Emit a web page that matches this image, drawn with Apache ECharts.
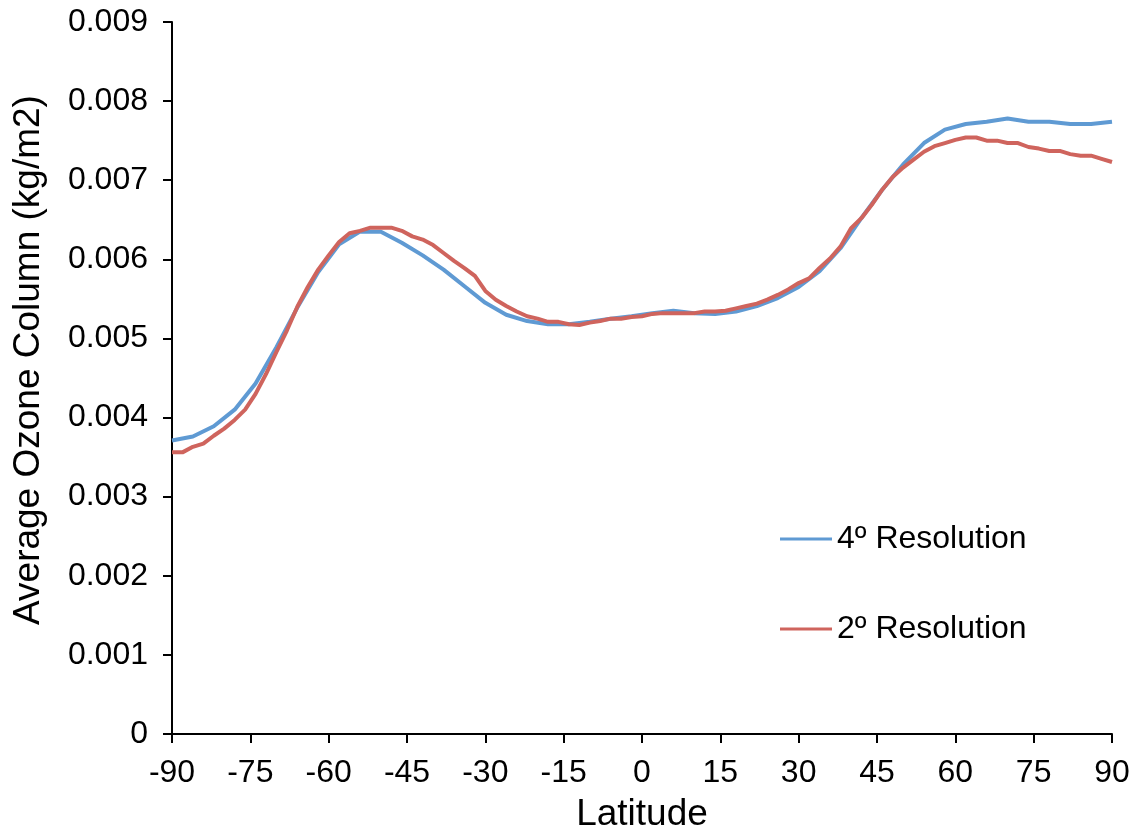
<!DOCTYPE html>
<html>
<head>
<meta charset="utf-8">
<script src="https://cdn.jsdelivr.net/npm/echarts@6/dist/echarts.min.js"></script>
<style>html,body{margin:0;padding:0;background:#fff}#c{width:1140px;height:838px}</style>
</head>
<body>
<div id="c"></div>
<script>
const xTicks = [-90,-75,-60,-45,-30,-15,0,15,30,45,60,75,90];
const yTicks = [0,0.001,0.002,0.003,0.004,0.005,0.006,0.007,0.008,0.009];

const lat4 = [-90,-86,-82,-78,-74,-70,-66,-62,-58,-54,-50,-46,-42,-38,-34,-30,-26,-22,-18,-14,-10,-6,-2,2,6,10,14,18,22,26,30,34,38,42,46,50,54,58,62,66,70,74,78,82,86,90];
const res4 = [3.71,3.76,3.89,4.10,4.43,4.89,5.39,5.84,6.19,6.35,6.35,6.21,6.05,5.87,5.66,5.45,5.30,5.22,5.18,5.18,5.21,5.25,5.28,5.32,5.35,5.32,5.31,5.34,5.41,5.51,5.65,5.85,6.14,6.52,6.88,7.20,7.47,7.64,7.71,7.74,7.78,7.74,7.74,7.71,7.71,7.74];

const lat2 = [-90,-88,-86,-84,-82,-80,-78,-76,-74,-72,-70,-68,-66,-64,-62,-60,-58,-56,-54,-52,-50,-48,-46,-44,-42,-40,-38,-36,-34,-32,-30,-28,-26,-24,-22,-20,-18,-16,-14,-12,-10,-8,-6,-4,-2,0,2,4,6,8,10,12,14,16,18,20,22,24,26,28,30,32,34,36,38,40,42,44,46,48,50,52,54,56,58,60,62,64,66,68,70,72,74,76,78,80,82,84,86,88,90];
const res2 = [3.56,3.56,3.63,3.67,3.77,3.86,3.97,4.10,4.30,4.55,4.83,5.10,5.40,5.65,5.87,6.05,6.22,6.33,6.36,6.40,6.40,6.40,6.36,6.29,6.25,6.18,6.08,5.98,5.89,5.79,5.60,5.49,5.41,5.34,5.28,5.25,5.21,5.21,5.18,5.17,5.20,5.22,5.25,5.25,5.27,5.28,5.31,5.32,5.32,5.32,5.32,5.34,5.34,5.35,5.38,5.41,5.44,5.49,5.55,5.62,5.70,5.76,5.89,6.01,6.16,6.39,6.52,6.69,6.88,7.04,7.16,7.26,7.36,7.43,7.47,7.51,7.54,7.54,7.50,7.50,7.47,7.47,7.42,7.40,7.37,7.37,7.33,7.31,7.31,7.27,7.23];

const scale = 0.001;
const pairs = (xs, ys) => xs.map((x, i) => [x, ys[i] * scale]);

const font = 'Liberation Sans, Arial, Helvetica, sans-serif';
const chart = echarts.init(document.getElementById('c'), null, {renderer: 'canvas'});
chart.setOption({
  animation: false,
  backgroundColor: '#fff',
  grid: {left: 172, right: 28, top: 22, bottom: 104, containLabel: false, outerBoundsMode: 'none'},
  legend: {
    orient: 'vertical', left: 775, top: 518, itemGap: 58,
    itemWidth: 52, itemHeight: 3, icon: 'rect',
    textStyle: {fontSize: 32, fontFamily: font, color: '#000'},
    data: ['4º Resolution', '2º Resolution']
  },
  xAxis: {
    type: 'value', min: xTicks[0], max: xTicks[xTicks.length - 1], interval: 15,
    name: 'Latitude', nameLocation: 'middle', nameGap: 62,
    nameTextStyle: {fontSize: 37, fontFamily: font, color: '#000'},
    axisLine: {show: true, onZero: false, lineStyle: {color: '#000', width: 2}},
    axisTick: {show: true, length: 9, lineStyle: {color: '#000', width: 2}},
    axisLabel: {fontSize: 32, fontFamily: font, color: '#000', margin: 23},
    splitLine: {show: false}
  },
  yAxis: {
    type: 'value', min: yTicks[0], max: yTicks[yTicks.length - 1], interval: 0.001,
    name: 'Average Ozone Column (kg/m2)', nameLocation: 'middle', nameGap: 125,
    nameTextStyle: {fontSize: 37, fontFamily: font, color: '#000', padding: [0, 0, 0, 36]},
    axisLine: {show: true, onZero: false, lineStyle: {color: '#000', width: 2}},
    axisTick: {show: true, length: 9, lineStyle: {color: '#000', width: 2}},
    axisLabel: {fontSize: 32, fontFamily: font, color: '#000', margin: 24,
      formatter: v => v === 0 ? '0' : v.toFixed(3)},
    splitLine: {show: false}
  },
  series: [
    {name: '4º Resolution', type: 'line', data: pairs(lat4, res4), showSymbol: false,
     color: '#5f9ad3', lineStyle: {width: 4, color: '#5f9ad3'}, itemStyle: {color: '#5f9ad3'}},
    {name: '2º Resolution', type: 'line', data: pairs(lat2, res2), showSymbol: false,
     color: '#cf645d', lineStyle: {width: 4, color: '#cf645d'}, itemStyle: {color: '#cf645d'}}
  ]
});
</script>
</body>
</html>
